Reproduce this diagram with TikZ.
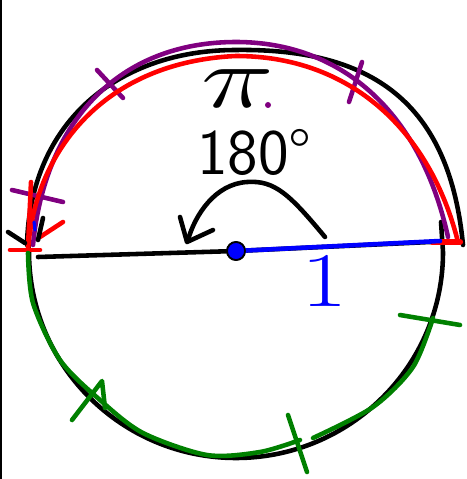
\RequirePackage{fix-cm}
\documentclass[tikz,border=0pt]{standalone}
\usepackage{tikz}

\definecolor{penred}{RGB}{255,0,0}
\definecolor{penpurple}{RGB}{128,0,128}
\definecolor{pengreen}{RGB}{0,128,0}
\definecolor{penblue}{RGB}{0,0,255}

\begin{document}
\begin{tikzpicture}[x=0.02cm, y=-0.02cm,
	pen/.style={line width=2.6pt, line cap=round, line join=round},
	handtext/.style={inner sep=0pt, outer sep=0pt}]
	
	\useasboundingbox (0,0) rectangle (466,479);
	\draw[line width=1.4pt] (1.2,0) -- (1.2,479);
	
	% circle, upper arc drawn wider on the right
	\draw[pen] (27,245) .. controls (30,120) and (120,50) .. (236,50) .. controls (380,48) and (450,110) .. (463,245);
	\draw[pen] (441,222) -- (443,252) .. controls (443,366) and (350,458) .. (236,458) .. controls (122,458) and (29,366) .. (29,252) -- (28,238);
	
	\draw[pen, penpurple] (33,245) .. controls (45,120) and (120,42) .. (236,42) .. controls (340,42) and (420,110) .. (448,237);
	\draw[pen, penpurple] (97,70) -- (123,98);
	\draw[pen, penpurple] (362,62) -- (349,102);
	\draw[pen, penpurple] (12,190) -- (63,202);
	
	\draw[pen, penred] (28,250) .. controls (35,150) and (105,62) .. (236,56) .. controls (350,56) and (430,130) .. (458,242);
	\draw[pen, penred] (31,182) -- (28,247);
	\draw[pen, penred] (10,250) -- (40,250);
	\draw[pen, penred] (40,237) -- (63,222);
	\draw[pen, penred, line width=3.6pt] (432,242) -- (460,242);
	
	\draw[pen] (8,232) -- (25,243);
	\draw[pen] (38,240) -- (43,218);
	\draw[pen, penblue, line width=1.8pt] (34,222) -- (35,230);
	
	\draw[pen, pengreen] plot[smooth] coordinates {(28,253) (33,303) (60,360) (100,400) (143,433) (207,455) (260,452) (300,440)};
	\draw[pen, pengreen] plot[smooth] coordinates {(313,438) (373,407) (413,367) (433,318)};
	\draw[pen, pengreen] (72,420) -- (102,381) -- (105,408);
	\draw[pen, pengreen] (288,415) -- (307,472);
	\draw[pen, pengreen] (400,315) -- (460,325);
	
	\coordinate (diamleft) at (38,257);
	\coordinate (diamright) at (430,242);
	\coordinate (rim) at (440,241);
	\node[circle, fill=penblue, draw=black, line width=1pt, minimum size=0.36cm, inner sep=0pt] (centre) at (236,251) {};
	
	\draw[pen] (diamleft) -- (centre) -- (diamright);
	\draw[pen, penblue] (centre) -- (rim);
	\node[circle, fill=penblue, draw=black, line width=1pt, minimum size=0.36cm, inner sep=0pt] at (centre) {};
	
	\node[handtext, anchor=base, xscale=1.4] (pi) at (238,108) {\fontsize{50}{56}\selectfont$\pi$};
	\fill[penpurple] (268,105) circle (3);
	\node[handtext, anchor=base west] (angle) at (197,175) {\fontsize{37}{42}\selectfont\sffamily 180°};
	\node[handtext, anchor=base, text=penblue, xscale=1.3] (radius) at (325,306) {\fontsize{44}{48}\selectfont 1};
	
	\draw[pen] (325,237) .. controls (290,195) and (275,180) .. (247,182) .. controls (215,184) and (195,215) .. (188,240);
	\draw[pen] (180,217) -- (187,242) -- (213,230);
	
\end{tikzpicture}
\end{document}
